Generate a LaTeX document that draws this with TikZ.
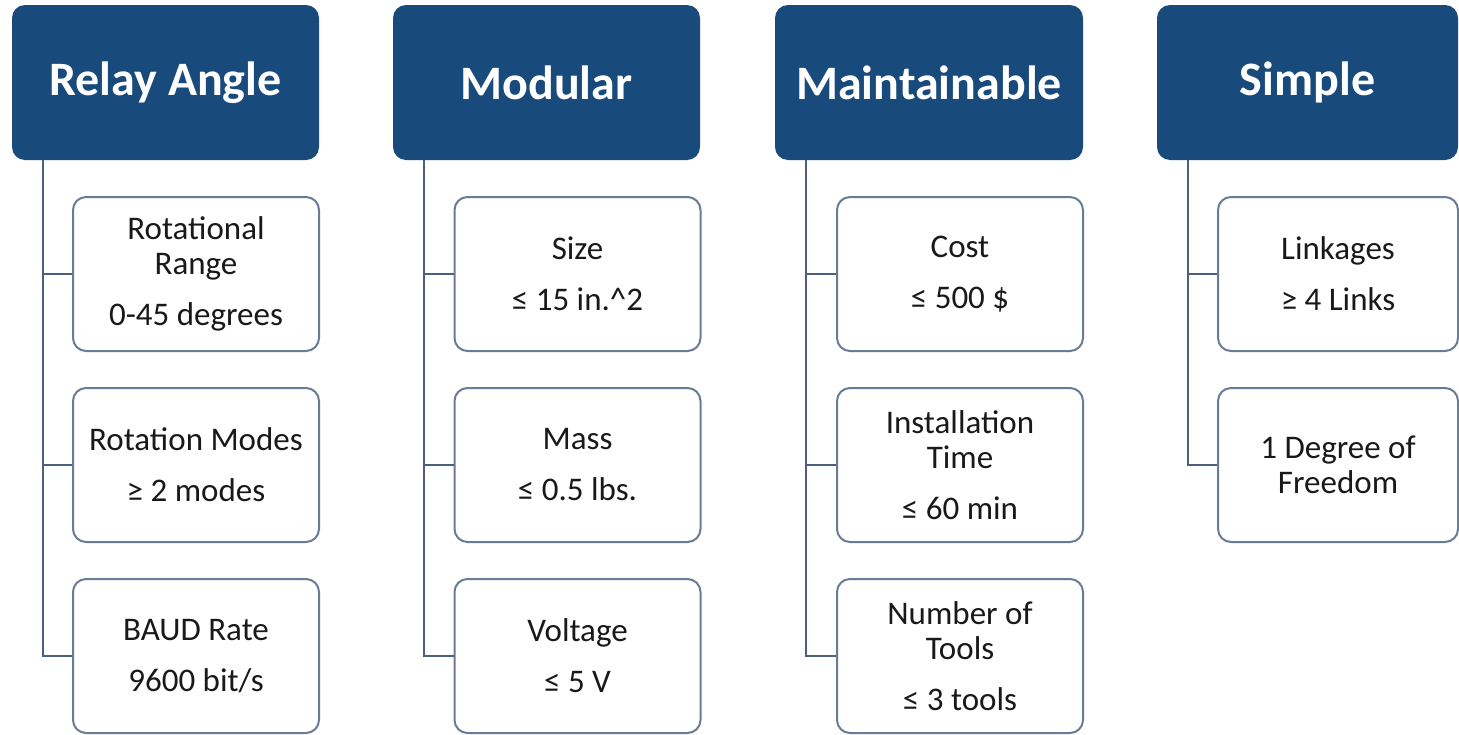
\documentclass[tikz,border=0pt]{standalone}
\usepackage{fontspec}
\setmainfont{Carlito}
\definecolor{hdr}{HTML}{184A7C}
\definecolor{edgec}{HTML}{6A7B96}
\definecolor{connc}{HTML}{4E5F7D}
\begin{document}
\begin{tikzpicture}[x=0.5pt,y=-0.5pt,
  hdrbox/.style={rounded corners=6.5pt, fill=hdr, draw=none, text=white,
    font=\fontsize{24}{28}\selectfont\bfseries, minimum height=77.5pt, inner sep=0pt},
  itembox/.style={rounded corners=6.5pt, draw=edgec, line width=1pt, fill=white,
    font=\fontsize{16.5}{17.5}\selectfont, align=center, minimum height=77pt,
    inner sep=0pt, text=black!90},
  conn/.style={draw=connc, line width=1pt}]
\useasboundingbox (0,0) rectangle (1459,734);

% headers
\node[hdrbox, minimum width=153.5pt] (h1) at (165.5,82.5) {Relay Angle};
\node[hdrbox, minimum width=153.5pt] (h2) at (546.5,82.5) {Modular};
\node[hdrbox, minimum width=154pt]   (h3) at (929,82.5)   {Maintainable};
\node[hdrbox, minimum width=150.5pt] (h4) at (1307.5,82.5) {Simple};

% Relay Angle
\node[itembox, minimum width=123pt] (a1) at (196,274) {Rotational\\Range\\[8pt]0-45 degrees};
\node[itembox, minimum width=123pt] (a2) at (196,465) {Rotation Modes\\[8pt]≥ 2 modes};
\node[itembox, minimum width=123pt] (a3) at (196,656) {BAUD Rate\\[8pt]9600 bit/s};

% Modular
\node[itembox, minimum width=123pt] (b1) at (577.5,274) {Size\\[8pt]≤ 15 in.\textasciicircum 2};
\node[itembox, minimum width=123pt] (b2) at (577.5,465) {Mass\\[8pt]≤ 0.5 lbs.};
\node[itembox, minimum width=123pt] (b3) at (577.5,656) {Voltage\\[8pt]≤ 5 V};

% Maintainable
\node[itembox, minimum width=123pt] (c1) at (960,274) {Cost\\[8pt]≤ 500 \$};
\node[itembox, minimum width=123pt] (c2) at (960,465) {Installation\\Time\\[8pt]≤ 60 min};
\node[itembox, minimum width=123pt] (c3) at (960,656) {Number of\\Tools\\[8pt]≤ 3 tools};

% Simple
\node[itembox, minimum width=120pt] (d1) at (1338,274) {Linkages\\[8pt]≥ 4 Links};
\node[itembox, minimum width=120pt] (d2) at (1338,465) {1 Degree of\\Freedom};

% connectors
\draw[conn] ([xshift=15.5pt]h1.south west) |- (a3.west);
\draw[conn] ([xshift=15.5pt]h1.south west |- a1.west) -- (a1.west);
\draw[conn] ([xshift=15.5pt]h1.south west |- a2.west) -- (a2.west);

\draw[conn] ([xshift=15.5pt]h2.south west) |- (b3.west);
\draw[conn] ([xshift=15.5pt]h2.south west |- b1.west) -- (b1.west);
\draw[conn] ([xshift=15.5pt]h2.south west |- b2.west) -- (b2.west);

\draw[conn] ([xshift=15.5pt]h3.south west) |- (c3.west);
\draw[conn] ([xshift=15.5pt]h3.south west |- c1.west) -- (c1.west);
\draw[conn] ([xshift=15.5pt]h3.south west |- c2.west) -- (c2.west);

\draw[conn] ([xshift=15.5pt]h4.south west) |- (d2.west);
\draw[conn] ([xshift=15.5pt]h4.south west |- d1.west) -- (d1.west);
\end{tikzpicture}
\end{document}
